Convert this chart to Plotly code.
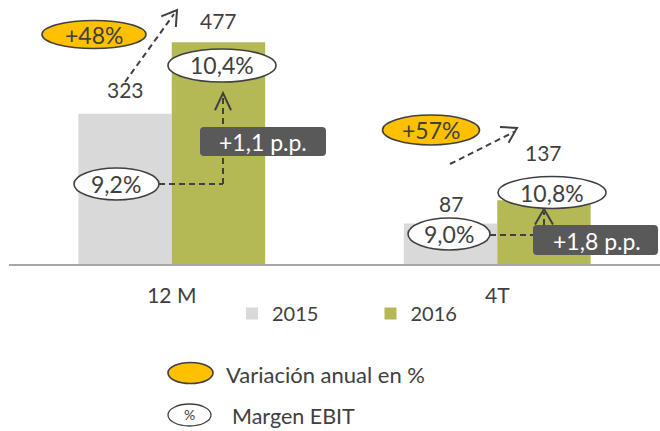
import math
import plotly.graph_objects as go

# ---------------- data ----------------
categories = ["12 M", "4T"]
series_names = ["2015", "2016"]
values_2015 = [323, 87]
values_2016 = [477, 137]
margin_2015 = ["9,2%", "9,0%"]
margin_2016 = ["10,4%", "10,8%"]
annual_change = ["+48%", "+57%"]
margin_change = ["+1,1 p.p.", "+1,8 p.p."]
legend_notes = ["Variación anual en %", "Margen EBIT"]
legend_symbol_text = "%"

# ---------------- style ----------------
FONT = "Lato"
TEXT = "#404040"
DARK = "#404040"
BOX = "#595959"
C2015 = "#D9D9D9"
C2016 = "#B4B955"
ORANGE = "#FFC000"

W, H = 660, 431
ML, MR, MT, MB = 9, 0, 0, 167
PW, PH = W - ML - MR, H - MT - MB


def px(x):
    return (x - ML) / PW


def py(y):
    return (MT + PH - y) / PH


def ellipse(cx, cy, w, h, fill, lw=1.6):
    return dict(type="circle", xref="paper", yref="paper",
                x0=px(cx - w / 2), x1=px(cx + w / 2),
                y0=py(cy + h / 2), y1=py(cy - h / 2),
                fillcolor=fill, line=dict(color=DARK, width=lw), layer="above")


def dline(x0, y0, x1, y1):
    return dict(type="line", xref="paper", yref="paper",
                x0=px(x0), y0=py(y0), x1=px(x1), y1=py(y1),
                line=dict(color=DARK, width=2, dash="6px,4px"), layer="above")


def arrowhead(x0, y0, tx, ty, leg=17, ang=32):
    d = math.atan2(y0 - ty, x0 - tx)
    pts = []
    for s in (-1, 1):
        a = d + s * math.radians(ang)
        pts.append((tx + leg * math.cos(a), ty + leg * math.sin(a)))
    path = "M{},{} L{},{} L{},{}".format(px(pts[0][0]), py(pts[0][1]), px(tx), py(ty),
                                        px(pts[1][0]), py(pts[1][1]))
    return dict(type="path", xref="paper", yref="paper", path=path,
                line=dict(color=DARK, width=2), layer="above")


def rbox(x0, y0, x1, y1, r=4):
    p = ("M{a},{b} L{c},{b} Q{x1},{b} {x1},{d} L{x1},{e} Q{x1},{y1p} {c},{y1p} "
         "L{a},{y1p} Q{x0},{y1p} {x0},{e} L{x0},{d} Q{x0},{b} {a},{b} Z").format(
        a=px(x0 + r), b=py(y0), c=px(x1 - r), x1=px(x1), d=py(y0 + r), e=py(y1 - r),
        y1p=py(y1), x0=px(x0))
    return dict(type="path", xref="paper", yref="paper", path=p,
                fillcolor=BOX, line=dict(width=0), layer="above")


def label(x, y, text, size=21, color=TEXT, xanchor="center"):
    return dict(x=px(x), y=py(y), xref="paper", yref="paper", text=text,
                showarrow=False, xanchor=xanchor, yanchor="middle",
                font=dict(family=FONT, size=size, color=color))


fig = go.Figure()
fig.add_trace(go.Bar(x=categories, y=values_2015, name=series_names[0],
                     marker=dict(color=C2015, line=dict(width=0))))
fig.add_trace(go.Bar(x=categories, y=values_2016, name=series_names[1],
                     marker=dict(color=C2016, line=dict(width=0))))

annotations = []
shapes = []

# value labels above bars (anchored on data values)
half_bar = 46.7
lift = [[24, 22], [20, 48]]
for i, cat in enumerate(categories):
    for j, vals in enumerate([values_2015, values_2016]):
        annotations.append(dict(x=cat, y=vals[i], xref="x", yref="y", text=str(vals[i]),
                                showarrow=False, xshift=(-1 if j == 0 else 1) * half_bar,
                                yshift=lift[i][j], xanchor="center", yanchor="middle",
                                font=dict(family=FONT, size=21, color=TEXT)))

# dashed growth arrows
growth_arrows = [((125, 82), (177, 10)), ((450, 164), (517, 128))]
for (x0, y0), (x1, y1) in growth_arrows:
    shapes.append(dline(x0, y0, x1 - 3, y1 + 4))
    shapes.append(arrowhead(x0, y0, x1, y1))

# margin connectors
shapes.append(dline(159, 184, 223, 184))
shapes.append(dline(223, 184, 223, 96))
shapes.append(arrowhead(223, 184, 223, 93, leg=19, ang=25))
shapes.append(dline(490, 235, 544, 235))
shapes.append(dline(544, 235, 544, 212))
shapes.append(arrowhead(544, 235, 544, 209, leg=18, ang=30))

# margin change boxes
pp_boxes = [(200, 127, 326, 156), (533, 225, 658, 255)]
pp_text = [(263, 142), (597, 241)]
for k, (b, t) in enumerate(zip(pp_boxes, pp_text)):
    shapes.append(rbox(*b))
    annotations.append(label(t[0], t[1], margin_change[k], size=23, color="white"))

# ellipses
var_ell = [(94, 34.5, 104, 28), (431, 130, 97, 30)]
m15_ell = [(116.5, 184, 85, 32), (449, 234, 82, 32)]
m16_ell = [(222, 65.5, 108, 33), (552, 192.5, 108, 32)]
for i in range(len(categories)):
    for ell, txt, fill in ((var_ell[i], annual_change[i], ORANGE),
                           (m15_ell[i], margin_2015[i], "white"),
                           (m16_ell[i], margin_2016[i], "white")):
        cx, cy, w, h = ell
        shapes.append(ellipse(cx, cy, w, h, fill))
        annotations.append(label(cx, cy, txt, size=23))

# extra legend (annotations + ellipse symbols)
shapes.append(ellipse(190.5, 373, 45, 21, ORANGE))
shapes.append(ellipse(189.5, 415, 43, 22, "white", lw=1.3))
annotations.append(label(189.5, 414.5, legend_symbol_text, size=14))
annotations.append(label(224, 374, legend_notes[0], size=22, xanchor="left"))
annotations.append(label(230, 416, legend_notes[1], size=21.5, xanchor="left"))

fig.update_layout(
    width=W, height=H,
    margin=dict(l=ML, r=MR, t=MT, b=MB),
    paper_bgcolor="white", plot_bgcolor="white",
    barmode="group", bargap=0.426, bargroupgap=0,
    font=dict(family=FONT, color=TEXT),
    showlegend=True,
    legend=dict(orientation="h", x=px(232), xanchor="left", y=py(294), yanchor="top",
                font=dict(family=FONT, size=20, color=TEXT),
                entrywidth=93.5, entrywidthmode="pixels",
                bgcolor="rgba(0,0,0,0)", itemclick=False, itemdoubleclick=False),
    xaxis=dict(type="category", range=[-0.5, 1.5], showline=True, linecolor="#A6A6A6",
               linewidth=2, ticks="", showgrid=False, zeroline=False,
               tickfont=dict(family=FONT, size=21, color=TEXT), ticklabelstandoff=12,
               fixedrange=True),
    yaxis=dict(visible=False, range=[0, 568], fixedrange=True),
    shapes=shapes,
    annotations=annotations,
)

fig.write_html("out.html", config={"displayModeBar": False},
               post_script="document.body.style.margin='0';")
